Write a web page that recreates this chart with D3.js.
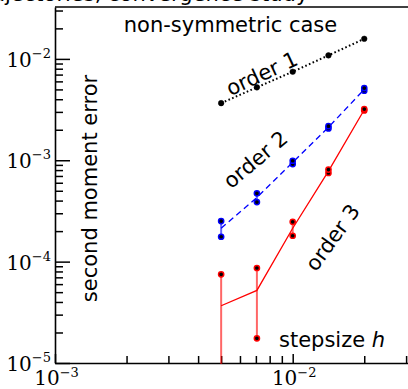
<!DOCTYPE html>
<html><head><meta charset="utf-8">
<script src="https://cdn.jsdelivr.net/npm/d3@7"></script>
<style>
html,body{margin:0;padding:0;background:#fff;}
svg{display:block;}
</style></head>
<body>
<svg id="chart" width="408" height="389"></svg>
<script>
// ---- data ----
const stepsizes = [0.005, 0.00707, 0.01, 0.01414, 0.02];
const order1 = [3.66e-3, 5.24e-3, 7.47e-3, 1.083e-2, 1.578e-2];
const order2Lo = [1.76e-4, 3.87e-4, 9.17e-4, 2.06e-3, 4.86e-3];
const order2Hi = [2.51e-4, 4.72e-4, 9.89e-4, 2.17e-3, 5.15e-3];
const order3Lo = [-1.6e-6, 1.75e-5, 1.80e-4, 7.5e-4, 3.1e-3];
const order3Hi = [7.5e-5, 8.65e-5, 2.47e-4, 8.1e-4, 3.2e-3];
const xMajor = [1e-3, 1e-2];
const xMinor = [2e-3,3e-3,4e-3,5e-3,6e-3,7e-3,8e-3,9e-3,2e-2,3e-2];
const yMajor = [1e-5, 1e-4, 1e-3, 1e-2];
const yMinor = [2e-5,3e-5,4e-5,5e-5,6e-5,7e-5,8e-5,9e-5,2e-4,3e-4,4e-4,5e-4,6e-4,7e-4,8e-4,9e-4,2e-3,3e-3,4e-3,5e-3,6e-3,7e-3,8e-3,9e-3,2e-2,3e-2];
const xExp = {0.001:"−3", 0.01:"−2"};
const yExp = {0.00001:"−5", 0.0001:"−4", 0.001:"−3", 0.01:"−2"};
const titleText = "Trajectories, convergence study";
const labelTop = "non-symmetric case";
const labelY = "second moment error";
const labelX = "stepsize ";
const orderLabels = ["order 1", "order 2", "order 3"];

// ---- layout ----
const L = 55, B = 363, T = 7;
const svg = d3.select("#chart");
const x = d3.scaleLog().domain([1e-3, 10 ** -1.45]).range([L, L + 237.7 * 1.55]);
const y = d3.scaleLog().domain([1e-5, 0.0325]).range([B, T]);

svg.append("defs").append("clipPath").attr("id","clip")
  .append("rect").attr("x", L).attr("y", T).attr("width", 420).attr("height", B - T + 1);

const sans = "'DejaVu Sans', sans-serif";
const serif = "'DejaVu Serif', serif";

// cropped title at top
const title = svg.append("text").attr("y", 0.5).attr("font-family", sans)
  .attr("font-size", 21).attr("fill", "#000").text(titleText);
const jIdx = titleText.indexOf("j");
const pre = title.node().getSubStringLength(0, jIdx);
title.attr("x", 5 - pre);

// axes
function styleAxis(g) {
  g.selectAll("line").attr("stroke", "#000").attr("stroke-width", 1.5);
  g.select(".domain").attr("stroke", "#000").attr("stroke-width", 1.6);
}

// y minor
svg.append("g").attr("transform", `translate(${L},0)`)
  .call(d3.axisLeft(y).tickValues(yMinor).tickSize(-8).tickFormat(""))
  .call(styleAxis).call(g => g.select(".domain").remove());
// y major
const yAx = svg.append("g").attr("transform", `translate(${L},0)`)
  .call(d3.axisLeft(y).tickValues(yMajor).tickSizeInner(-15).tickSizeOuter(0).tickPadding(5))
  .call(styleAxis);
yAx.selectAll(".tick text").each(function(d) {
  const t = d3.select(this).text("").attr("font-family", serif).attr("font-size", 20)
    .attr("fill", "#000").attr("dy", null).attr("y", 7.5).attr("x", -4);
  t.append("tspan").text("10");
  t.append("tspan").attr("dy", -9).attr("font-size", 13).text(yExp[d]);
});

// x minor
svg.append("g").attr("transform", `translate(0,${B})`)
  .call(d3.axisBottom(x).tickValues(xMinor).tickSize(-7).tickFormat(""))
  .call(styleAxis).call(g => g.select(".domain").remove());
// x major
const xAx = svg.append("g").attr("transform", `translate(0,${B})`)
  .call(d3.axisBottom(x).tickValues(xMajor).tickSizeInner(-9).tickSizeOuter(0))
  .call(styleAxis);
xAx.selectAll(".tick text").each(function(d) {
  const t = d3.select(this).text("").attr("font-family", serif).attr("font-size", 20)
    .attr("fill", "#000").attr("dy", null).attr("y", 22).attr("x", 1);
  t.append("tspan").text("10");
  t.append("tspan").attr("dy", -8).attr("font-size", 13).text(xExp[d]);
});

// top border
svg.append("line").attr("x1", L).attr("x2", 420).attr("y1", y(0.0325)).attr("y2", y(0.0325))
  .attr("stroke", "#000").attr("stroke-width", 1.6);

// ---- data marks ----
const plot = svg.append("g").attr("clip-path", "url(#clip)");
const yMin = y.domain()[0];
const safeY = v => y(Math.max(v, yMin * 0.5));

const mean2 = stepsizes.map((h, i) => ({h, v: (order2Lo[i] + order2Hi[i]) / 2}));
const mean3 = stepsizes.map((h, i) => ({h, v: (order3Lo[i] + order3Hi[i]) / 2}));
const line = d3.line().x(d => x(d.h)).y(d => safeY(d.v));

// order 1 dotted
plot.append("path").datum(stepsizes.map((h, i) => ({h, v: order1[i]})))
  .attr("d", line).attr("fill", "none").attr("stroke", "#000")
  .attr("stroke-width", 2).attr("stroke-dasharray", "1.6,2.4");
// order 2 dashed
plot.append("path").datum(mean2).attr("d", line).attr("fill", "none")
  .attr("stroke", "#0000ff").attr("stroke-width", 1.3).attr("stroke-dasharray", "6,4");
// order 3 solid
plot.append("path").datum(mean3).attr("d", line).attr("fill", "none")
  .attr("stroke", "#ff0000").attr("stroke-width", 1.3);

// error bars
function bars(lo, hi, color) {
  plot.append("g").selectAll("line").data(stepsizes).join("line")
    .attr("x1", d => x(d)).attr("x2", d => x(d))
    .attr("y1", (d, i) => safeY(lo[i])).attr("y2", (d, i) => safeY(hi[i]))
    .attr("stroke", color).attr("stroke-opacity", 0.6).attr("stroke-width", 2);
}
bars(order2Lo, order2Hi, "#0000ff");
bars(order3Lo, order3Hi, "#ff0000");

// markers
function markers(vals, color, r, sw) {
  const pts = [];
  vals.forEach(arr => arr.forEach((v, i) => { if (v > 0) pts.push({h: stepsizes[i], v}); }));
  plot.append("g").selectAll("circle").data(pts).join("circle")
    .attr("cx", d => x(d.h)).attr("cy", d => y(d.v)).attr("r", r)
    .attr("fill", "#000").attr("stroke", color).attr("stroke-width", sw);
}
markers([order1], "#000", 2.8, 0.5);
markers([order2Lo, order2Hi], "#0000ff", 2.6, 1.5);
markers([order3Lo, order3Hi], "#ff0000", 2.6, 1.5);

// ---- annotations ----
svg.append("text").attr("x", 230.5).attr("y", 32).attr("text-anchor", "middle")
  .attr("font-family", sans).attr("font-size", 21).text(labelTop);

svg.append("text").attr("transform", "translate(97,188.5) rotate(-90)")
  .attr("text-anchor", "middle").attr("font-family", sans).attr("font-size", 21).text(labelY);

const sx = svg.append("text").attr("x", 279).attr("y", 347)
  .attr("font-family", sans).attr("font-size", 21).text(labelX);
sx.append("tspan").attr("font-style", "italic").text("h");

const orderPos = [[261.5, 73, -25], [255, 159, -40], [332, 237, -54]];
orderLabels.forEach((s, i) => {
  const [cx, cy, a] = orderPos[i];
  svg.append("text").attr("transform", `translate(${cx},${cy}) rotate(${a})`)
    .attr("text-anchor", "middle").attr("dy", "0.38em")
    .attr("font-family", sans).attr("font-size", 21).text(s);
});
</script>
</body></html>
